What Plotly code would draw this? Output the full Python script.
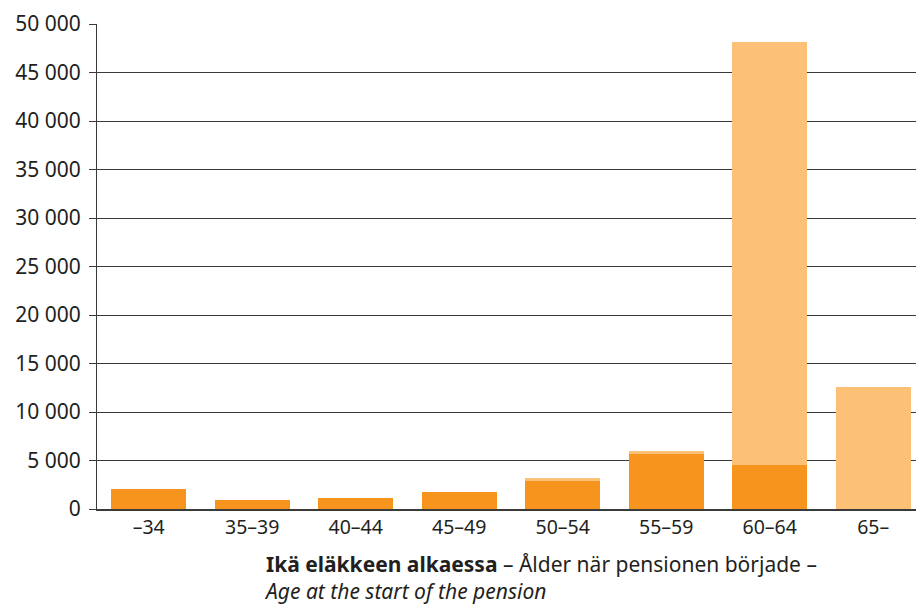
import plotly.graph_objects as go

categories = ["–34", "35–39", "40–44", "45–49", "50–54", "55–59", "60–64", "65–"]
dark_values = [2050, 930, 1130, 1750, 2920, 5640, 4570, 0]
light_values = [0, 0, 0, 0, 280, 340, 43580, 12580]
y_tickvals = [0, 5000, 10000, 15000, 20000, 25000, 30000, 35000, 40000, 45000, 50000]
y_ticktext = ["0", "5 000", "10 000", "15 000", "20 000", "25 000", "30 000", "35 000", "40 000", "45 000", "50 000"]

FONT = "Noto Sans"
fig = go.Figure()
fig.add_trace(go.Bar(x=categories, y=dark_values, marker=dict(color="#F7941D", line=dict(width=0)),
                     hoverinfo="x+y"))
fig.add_trace(go.Bar(x=categories, y=light_values, marker=dict(color="#FCC177", line=dict(width=0)),
                     hoverinfo="x+y"))

fig.update_layout(
    barmode="stack",
    bargap=0.28,
    width=925, height=605,
    margin=dict(l=97, r=0, t=24, b=96, autoexpand=False),
    plot_bgcolor="white", paper_bgcolor="white",
    showlegend=False,
    font=dict(family=FONT, size=20, color="#231f20"),
    xaxis=dict(showgrid=False, showline=True, linecolor="#3a3a3a", linewidth=2,
               ticks="", tickfont=dict(size=19.5), fixedrange=True, automargin=False),
    yaxis=dict(range=[0, 50000], tickvals=y_tickvals, ticktext=y_ticktext,
               showgrid=True, gridcolor="#3a3a3a", gridwidth=1,
               showline=True, linecolor="#3a3a3a", linewidth=1,
               ticks="outside", ticklen=7, tickcolor="#3a3a3a", ticklabelstandoff=4,
               tickfont=dict(size=21), zeroline=False, automargin=False),
)

fig.add_annotation(
    text="<b>Ikä eläkkeen alkaessa</b> – Ålder när pensionen började –<br><i>Age at the start of the pension</i>",
    xref="paper", yref="paper", x=(262 - 97) / 828, y=-(548 - 509) / 485,
    xanchor="left", yanchor="top", align="left", showarrow=False,
    font=dict(family=FONT, size=21, color="#231f20"),
)

fig.write_html("out.html", config={"displayModeBar": False},
               post_script="document.body.style.margin='0';document.body.style.overflow='hidden';")
